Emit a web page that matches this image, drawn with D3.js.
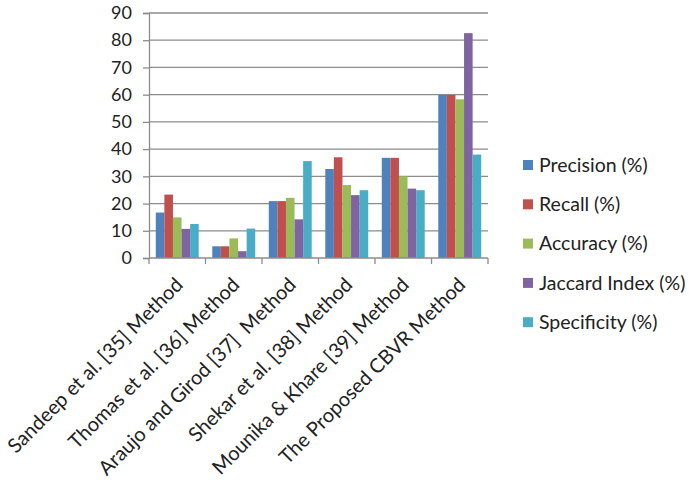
<!DOCTYPE html>
<html><head><meta charset="utf-8">
<script src="https://cdn.jsdelivr.net/npm/d3@7"></script>
<style>body{margin:0;background:#fff}svg{display:block}text{font-family:Lato,sans-serif;fill:#222}</style>
</head><body><svg id="c" width="689" height="482"></svg>
<script>
const categories = ["Sandeep et al. [35] Method","Thomas et al. [36] Method","Araujo and Girod [37]  Method","Shekar et al. [38] Method","Mounika & Khare [39] Method","The Proposed CBVR Method"];
const seriesNames = ["Precision (%)","Recall (%)","Accuracy (%)","Jaccard Index (%)","Specificity (%)"];
const precision   = [16.7, 4.3, 20.9, 32.7, 36.8, 59.9];
const recall      = [23.3, 4.3, 20.9, 37.0, 36.8, 59.9];
const accuracy    = [14.9, 7.2, 22.1, 26.8, 30.0, 58.3];
const jaccard     = [10.7, 2.5, 14.2, 23.1, 25.5, 82.6];
const specificity = [12.5, 10.8, 35.6, 24.9, 24.9, 38.0];
const yTicks = [0,10,20,30,40,50,60,70,80,90];
const colors = ["#4F81BD","#C0504D","#9BBB59","#8064A2","#4BACC6"];
const series = [precision, recall, accuracy, jaccard, specificity];

const svg = d3.select("#c");
const L = 149, R = 488, T = 13, B = 258;
const x0 = d3.scaleBand().domain(categories).range([L, R]).paddingInner(0.24).paddingOuter(0.12);
const x1 = d3.scaleBand().domain(d3.range(5)).range([0, x0.bandwidth()]);
const y = d3.scaleLinear().domain([0, 90]).range([B, T]);

// gridlines
svg.append("g").selectAll("line").data(yTicks.filter(d=>d>0)).join("line")
  .attr("x1", L).attr("x2", R).attr("y1", d=>y(d)).attr("y2", d=>y(d))
  .attr("stroke", "#8c8c8c").attr("stroke-width", 1.3);

// y axis
const ya = svg.append("g").attr("transform", `translate(${L},0)`)
  .call(d3.axisLeft(y).tickValues(yTicks).tickSize(6).tickPadding(11));
ya.select(".domain").attr("stroke", "#8c8c8c").attr("stroke-width", 1.3);
ya.selectAll(".tick line").attr("stroke", "#8c8c8c").attr("stroke-width", 1.3);
ya.selectAll(".tick text").attr("font-size", 18).attr("fill", "#222").style("font-family", "Lato,sans-serif");

// bars
const g = svg.append("g");
categories.forEach((c, i) => {
  g.append("g").attr("transform", `translate(${x0(c)},0)`)
    .selectAll("rect").data(series.map((s, k) => ({k, v: s[i]}))).join("rect")
    .attr("x", d => x1(d.k)).attr("width", x1.bandwidth())
    .attr("y", d => y(d.v)).attr("height", d => B - y(d.v))
    .attr("fill", d => colors[d.k]);
});

// x axis
const xa = svg.append("g").attr("transform", `translate(0,${B})`);
xa.append("line").attr("x1", L).attr("x2", R).attr("stroke", "#8c8c8c").attr("stroke-width", 1.3);
const step = (R - L) / categories.length;
xa.selectAll(".tk").data(d3.range(categories.length + 1)).join("line")
  .attr("x1", d => L + d * step).attr("x2", d => L + d * step).attr("y1", 0).attr("y2", 6)
  .attr("stroke", "#8c8c8c").attr("stroke-width", 1.3);
xa.selectAll("text").data(categories).join("text")
  .attr("transform", d => `translate(${x0(d) + x0.bandwidth()/2 + 7},${28}) rotate(-45)`)
  .attr("text-anchor", "end").attr("font-size", 20)
  .style("white-space", "pre")
  .text(d => d);

// legend
const lg = svg.append("g");
seriesNames.forEach((n, k) => {
  const yy = 165 + k * 39.3;
  lg.append("rect").attr("x", 523).attr("y", yy - 5).attr("width", 10).attr("height", 10).attr("fill", colors[k]);
  lg.append("text").attr("x", 539).attr("y", yy).attr("dy", "0.35em").attr("font-size", 19.5).text(n);
});
</script></body></html>
